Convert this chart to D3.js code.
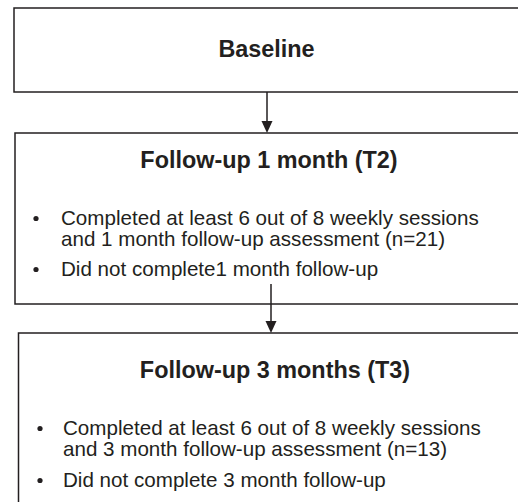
<!DOCTYPE html>
<html><head><meta charset="utf-8">
<script src="https://cdn.jsdelivr.net/npm/d3@7/dist/d3.min.js"></script>
<style>html,body{margin:0;padding:0;background:#fff;overflow:hidden}svg{display:block}</style>
</head><body>
<svg id="c" width="518" height="502"></svg>
<script>
const stageTitles = ["Baseline", "Follow-up 1 month (T2)", "Follow-up 3 months (T3)"];
const stageBullets = [
  [],
  [["Completed at least 6 out of 8 weekly sessions", "and 1 month follow-up assessment (n=21)"], ["Did not complete1 month follow-up"]],
  [["Completed at least 6 out of 8 weekly sessions", "and 3 month follow-up assessment (n=13)"], ["Did not complete 3 month follow-up"]]
];

const svg = d3.select("#c");
const ink = "#231f20";
const font = "'Liberation Sans', Arial, sans-serif";

// layout
const boxes = [
  {x: 14, y: 8,   h: 84,  titleY: 57,  cx: 266.5},
  {x: 15, y: 133, h: 171, titleY: 168, cx: 269,   bx: 36, tx: 61, lineYs: [[225, 246], [276]]},
  {x: 18.5, y: 333, h: 200, titleY: 378, cx: 275, bx: 40, tx: 63, lineYs: [[435, 456], [487]]}
];
const arrows = [
  {x: 267, y1: 92, y2: 133},
  {x: 271, y1: 284, y2: 333}
];

const g = svg.append("g");
boxes.forEach((b, i) => {
  g.append("rect").attr("x", b.x).attr("y", b.y).attr("width", 600).attr("height", b.h)
    .attr("fill", "none").attr("stroke", ink).attr("stroke-width", 1.5);
  g.append("text").attr("x", b.cx).attr("y", b.titleY).attr("text-anchor", "middle")
    .attr("font-family", font).attr("font-weight", "bold").attr("font-size", 23.4)
    .attr("fill", ink).text(stageTitles[i]);
  stageBullets[i].forEach((lines, j) => {
    const ys = b.lineYs[j];
    g.append("circle").attr("cx", b.bx).attr("cy", ys[0] - 6.5).attr("r", 2.6).attr("fill", ink);
    lines.forEach((ln, k) => {
      g.append("text").attr("x", b.tx).attr("y", ys[k])
        .attr("font-family", font).attr("font-size", 20.6).attr("fill", ink).text(ln);
    });
  });
});

arrows.forEach(a => {
  g.append("line").attr("x1", a.x).attr("x2", a.x).attr("y1", a.y1).attr("y2", a.y2 - 9)
    .attr("stroke", ink).attr("stroke-width", 1.5);
  g.append("path").attr("d", `M${a.x - 5.5},${a.y2 - 12}L${a.x + 5.5},${a.y2 - 12}L${a.x},${a.y2}Z`)
    .attr("fill", ink);
});
</script>
</body></html>
